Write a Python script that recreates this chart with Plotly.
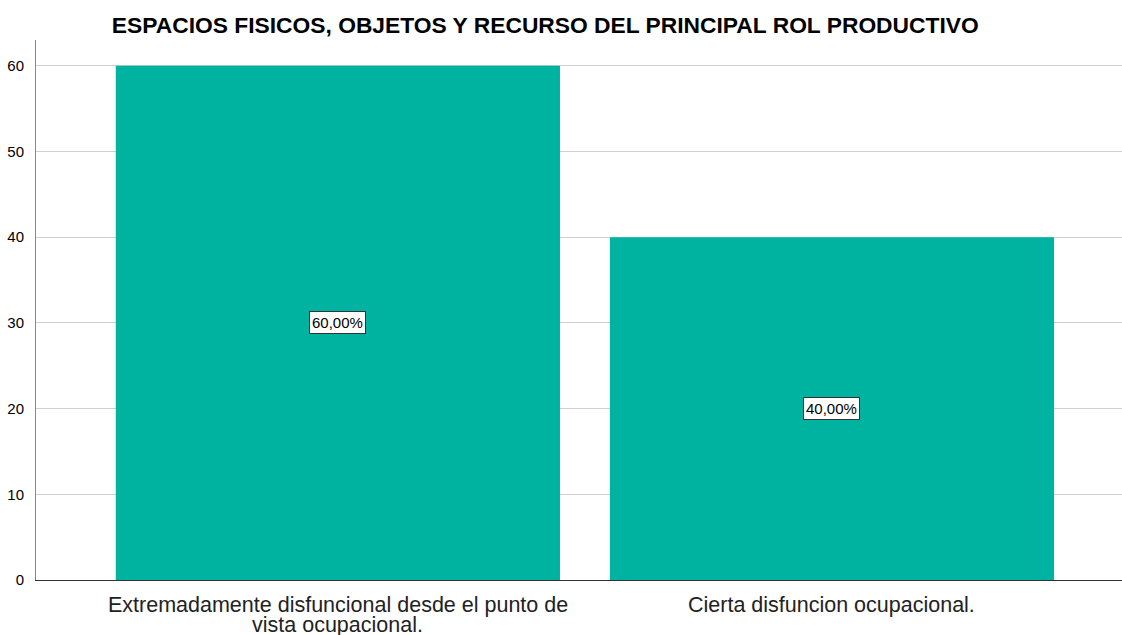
import plotly.graph_objects as go

categories = ["Extremadamente disfuncional desde el punto de vista ocupacional.",
              "Cierta disfuncion ocupacional."]
category_lines = [["Extremadamente disfuncional desde el punto de", "vista ocupacional."],
                  ["Cierta disfuncion ocupacional."]]
values = [60.0, 40.0]
labels = ["60,00%", "40,00%"]
title = "ESPACIOS FISICOS, OBJETOS Y RECURSO DEL PRINCIPAL ROL PRODUCTIVO"

FONT = "Liberation Sans, Arial, sans-serif"

fig = go.Figure()
fig.add_trace(go.Bar(x=categories, y=values, marker=dict(color="#00B3A0", line=dict(width=0)),
                     hoverinfo="skip"))

# value labels in boxes at bar middle
for c, v, t in zip(categories, values, labels):
    fig.add_annotation(x=c, y=v / 2, text=t, showarrow=False,
                       font=dict(family=FONT, size=15, color="black"),
                       bgcolor="white", bordercolor="#333333", borderwidth=1, borderpad=2)

# category labels (tight line spacing)
for c, lines in zip(categories, category_lines):
    for i, line in enumerate(lines):
        fig.add_annotation(x=c, y=0, yref="paper", text=line, showarrow=False,
                           yanchor="middle", yshift=-25 - 20 * i,
                           font=dict(family=FONT, size=21.5, color="#222222"))

fig.update_layout(
    width=1122, height=635,
    margin=dict(l=36, r=0, t=40, b=55),
    paper_bgcolor="white", plot_bgcolor="white",
    bargap=0.101,
    showlegend=False,
    title=dict(text=title, x=0.486, xref="container", xanchor="center",
               y=0.961, yref="container", yanchor="middle",
               font=dict(family=FONT, size=22.8, color="black", weight="bold")),
    font=dict(family=FONT, color="black"),
)
fig.update_xaxes(range=[-0.611, 1.587], showgrid=False, showline=True, linecolor="#333333",
                 linewidth=1, ticks="", showticklabels=False)
fig.update_yaxes(range=[0, 63.0], tickvals=[0, 10, 20, 30, 40, 50, 60], showgrid=True,
                 gridcolor="#d0d0d0", gridwidth=1, showline=True, linecolor="#888888",
                 linewidth=1, ticks="", ticklabelstandoff=8,
                 tickfont=dict(family=FONT, size=15, color="black"), zeroline=False)

fig.write_html("out.html", config={"displayModeBar": False},
               post_script="document.body.style.margin='0';document.body.style.overflow='hidden';")
